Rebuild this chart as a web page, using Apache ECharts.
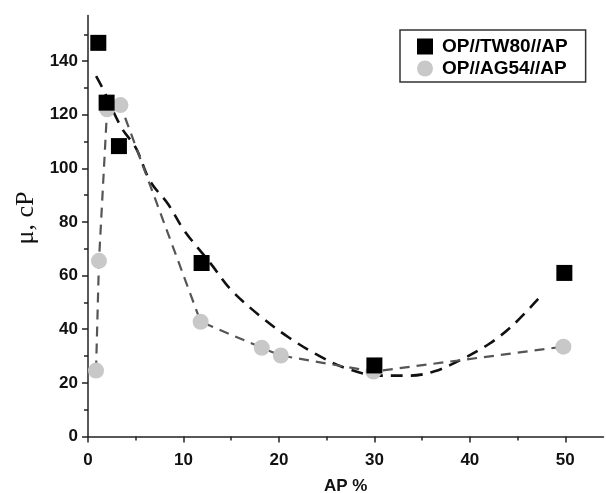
<!DOCTYPE html>
<html>
<head>
<meta charset="utf-8">
<script src="https://cdn.jsdelivr.net/npm/echarts@6/dist/echarts.min.js"></script>
<style>
  html, body { margin: 0; padding: 0; background: #fff; }
  #chart { width: 606px; height: 493px; }
</style>
</head>
<body>
<div id="chart"></div>
<script>
// Viscosity vs AP content for the two formulations
const tw80X = [1.08, 1.95, 3.24, 11.9, 30.0, 49.9];
const tw80Y = [146.8, 124.5, 108.3, 64.7, 26.5, 61.0];

const ag54X = [0.84, 1.15, 2.0, 3.4, 11.8, 18.2, 20.2, 29.9, 49.8];
const ag54Y = [24.6, 65.5, 122.0, 123.6, 42.8, 33.1, 30.2, 24.2, 33.5];

// Trend curve through the TW80 points
const trendX = [0.85, 1.6, 3.5, 5.0, 6.5, 8.4, 10.1, 12.9, 14.9, 18, 21, 24, 27, 30.5, 33.7, 36.3, 39, 42, 44.5, 47.6];
const trendY = [134.4, 129.4, 115.2, 107.7, 95.3, 86.6, 76.7, 64.3, 55.0, 45.0, 37.0, 30.5, 25.5, 22.7, 22.7, 24.3, 28.5, 34.5, 41.5, 53.0];

const seriesNames = ['OP//TW80//AP', 'OP//AG54//AP'];
const xTicks = [0, 10, 20, 30, 40, 50];
const yTicks = [0, 20, 40, 60, 80, 100, 120, 140];

const pairs = (xs, ys) => xs.map((x, i) => [x, ys[i]]);

const labelFont = { fontFamily: 'Liberation Sans, Arial, sans-serif', fontWeight: 'bold', fontSize: 17, color: '#111' };
const axisColor = '#222';

const chart = echarts.init(document.getElementById('chart'), null, { renderer: 'canvas' });
chart.setOption({
  animation: false,
  backgroundColor: '#fff',
  grid: { left: 88, right: 2.5, top: 15.5, bottom: 56.5, containLabel: false, outerBoundsMode: 'none' },
  legend: {
    orient: 'vertical',
    left: 400, top: 30,
    data: [
      { name: seriesNames[0], icon: 'rect' },
      { name: seriesNames[1], icon: 'circle' }
    ],
    itemWidth: 16, itemHeight: 16, itemGap: 3,
    padding: [7, 18, 4, 17],
    borderColor: '#333', borderWidth: 1.5,
    textStyle: { fontFamily: 'Liberation Sans, Arial, sans-serif', fontWeight: 'bold', fontSize: 19, lineHeight: 19, color: '#000', padding: [0, 0, 0, 4] }
  },
  xAxis: {
    type: 'value', min: 0, max: 54, interval: 10,
    name: 'AP %', nameLocation: 'middle', nameGap: 41,
    nameTextStyle: { fontFamily: 'Liberation Sans, Arial, sans-serif', fontWeight: 'bold', fontSize: 17, color: '#111' },
    axisLine: { show: true, lineStyle: { color: axisColor, width: 1.5 } },
    axisTick: { show: true, inside: false, length: 6, customValues: xTicks, lineStyle: { color: axisColor, width: 1.5 } },
    minorTick: { show: true, splitNumber: 2, length: 4, lineStyle: { color: axisColor, width: 1.5 } },
    axisLabel: Object.assign({ margin: 15, customValues: xTicks }, labelFont),
    splitLine: { show: false }
  },
  yAxis: {
    type: 'value', min: 0, max: 157, interval: 20,
    name: 'μ, cP', nameLocation: 'middle', nameGap: 44, nameRotate: 90,
    nameTextStyle: { fontFamily: 'Liberation Serif, Times New Roman, serif', fontSize: 26, color: '#111', padding: [0, 0, 0, 16] },
    axisLine: { show: true, lineStyle: { color: axisColor, width: 1.5 } },
    axisTick: { show: true, inside: false, length: 6, customValues: yTicks, lineStyle: { color: axisColor, width: 1.5 } },
    minorTick: { show: true, splitNumber: 2, length: 4, lineStyle: { color: axisColor, width: 1.5 } },
    axisLabel: Object.assign({ margin: 10, customValues: yTicks }, labelFont),
    splitLine: { show: false }
  },
  series: [
    {
      name: 'trend-tw80', type: 'line', data: pairs(trendX, trendY),
      smooth: 0.35, showSymbol: false, symbol: 'none', z: 1,
      lineStyle: { color: '#111', width: 2.6, type: [12, 8] }
    },
    {
      name: 'trend-ag54', type: 'line', data: pairs(ag54X, ag54Y),
      smooth: false, showSymbol: false, symbol: 'none', z: 1,
      lineStyle: { color: '#555', width: 2.2, type: [10, 7] }
    },
    {
      name: seriesNames[0], type: 'scatter', data: pairs(tw80X, tw80Y),
      symbol: 'rect', symbolSize: 16, z: 3,
      itemStyle: { color: '#000', opacity: 1 }
    },
    {
      name: seriesNames[1], type: 'scatter', data: pairs(ag54X, ag54Y),
      symbol: 'circle', symbolSize: 16, z: 2,
      itemStyle: { color: '#c8c8c8', opacity: 1 }
    }
  ]
});
</script>
</body>
</html>
